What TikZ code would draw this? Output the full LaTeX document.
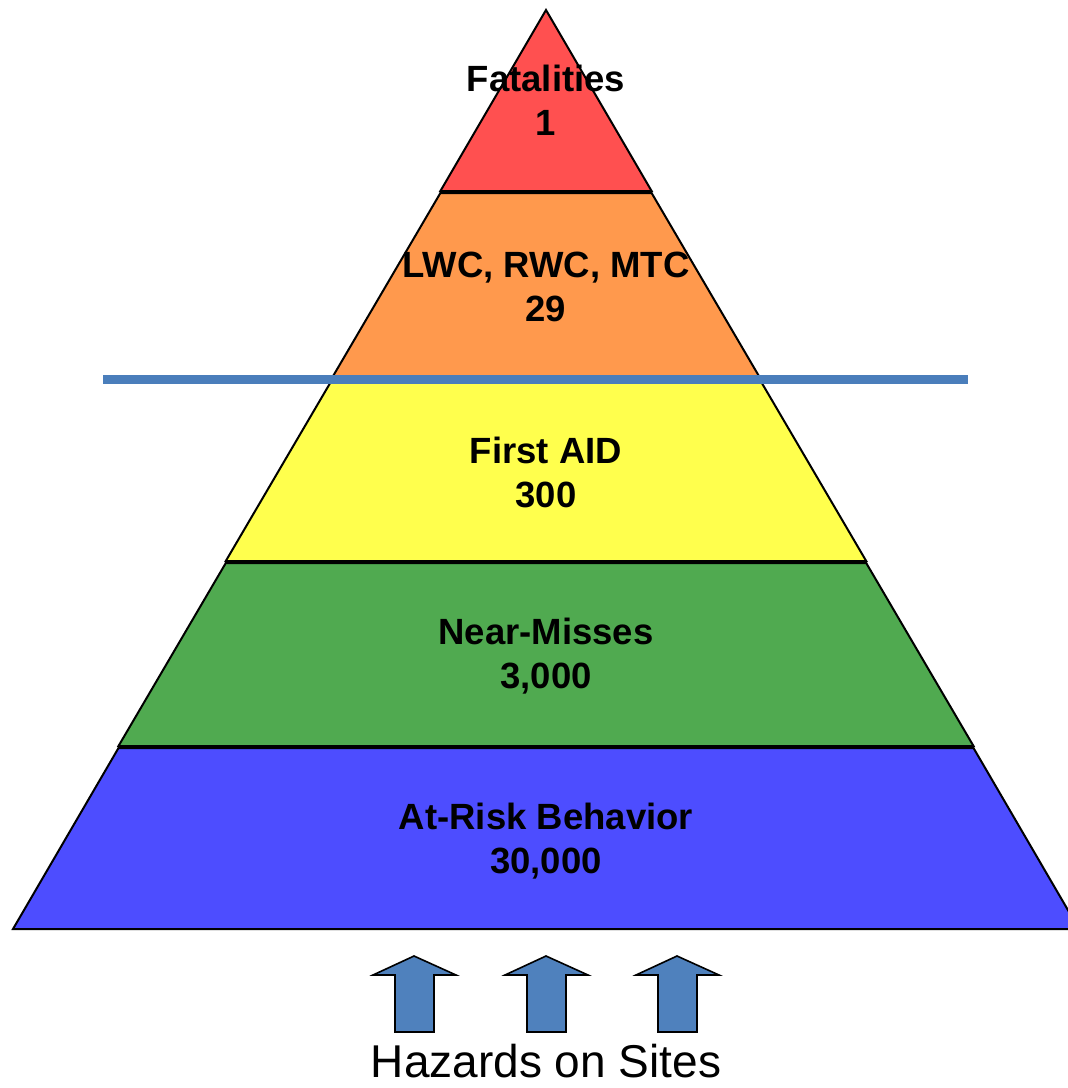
\documentclass[tikz,border=0pt]{standalone}
\usepackage{fontspec}
\setmainfont{Liberation Sans}
\begin{document}
\begin{tikzpicture}[x=1pt,y=-1pt,
  layer/.style={draw=black,line width=2pt,line join=miter},
  lbl/.style={font=\fontsize{36.5}{44}\selectfont\bfseries,align=center,inner sep=0pt},
  uparrow/.style={draw=black,line width=1.6pt,fill=arrowblue,line join=miter}]
\definecolor{lred}{RGB}{255,80,80}
\definecolor{lorange}{RGB}{255,153,77}
\definecolor{lyellow}{RGB}{255,255,77}
\definecolor{lgreen}{RGB}{80,170,80}
\definecolor{lblue}{RGB}{77,77,255}
\definecolor{arrowblue}{RGB}{79,129,189}
\definecolor{barblue}{RGB}{74,126,187}
\useasboundingbox (0,0) rectangle (1068,1088);
\clip (0,0) rectangle (1068,1088);
% layers
\draw[layer,fill=lblue]   (118.5,748) -- (973.5,748) -- (1079,929) -- (13,929) -- cycle;
\draw[layer,fill=lgreen]  (225.8,563) -- (866.2,563) -- (973.5,746) -- (118.5,746) -- cycle;
\draw[layer,fill=lyellow] (333.1,378) -- (758.9,378) -- (866.2,561) -- (225.8,561) -- cycle;
\draw[layer,fill=lorange] (440.4,193) -- (651.6,193) -- (758.9,376) -- (333.1,376) -- cycle;
\draw[layer,fill=lred]    (546,10) -- (651.6,191) -- (440.4,191) -- cycle;
% separator bar
\coordinate (barL) at (103,379.5);
\coordinate (barR) at (968,379.5);
\draw[barblue,line width=9pt] (barL) -- (barR);
% labels
\node[lbl] (fat) at (546,100) {Fatalities\\1};
\node[lbl] (lwc) at (546,287) {LWC, RWC, MTC\\29};
\node[lbl] (fa)  at (546,472) {First AID\\300};
\node[lbl] (nm)  at (546,656) {Near-Misses\\3,000};
\node[lbl] (ar)  at (546,841) {At-Risk Behavior\\30,000};
% arrows
\foreach \cx in {414,546,677}{
  \draw[uparrow] (\cx,956) -- (\cx+42,975) -- (\cx+20,975) -- (\cx+20,1032)
     -- (\cx-19,1032) -- (\cx-19,975) -- (\cx-41,975) -- cycle;
}
\node[font=\fontsize{46}{54}\selectfont,inner sep=0pt,anchor=base] (haz) at (546,1077) {Hazards on Sites};
\end{tikzpicture}
\end{document}
